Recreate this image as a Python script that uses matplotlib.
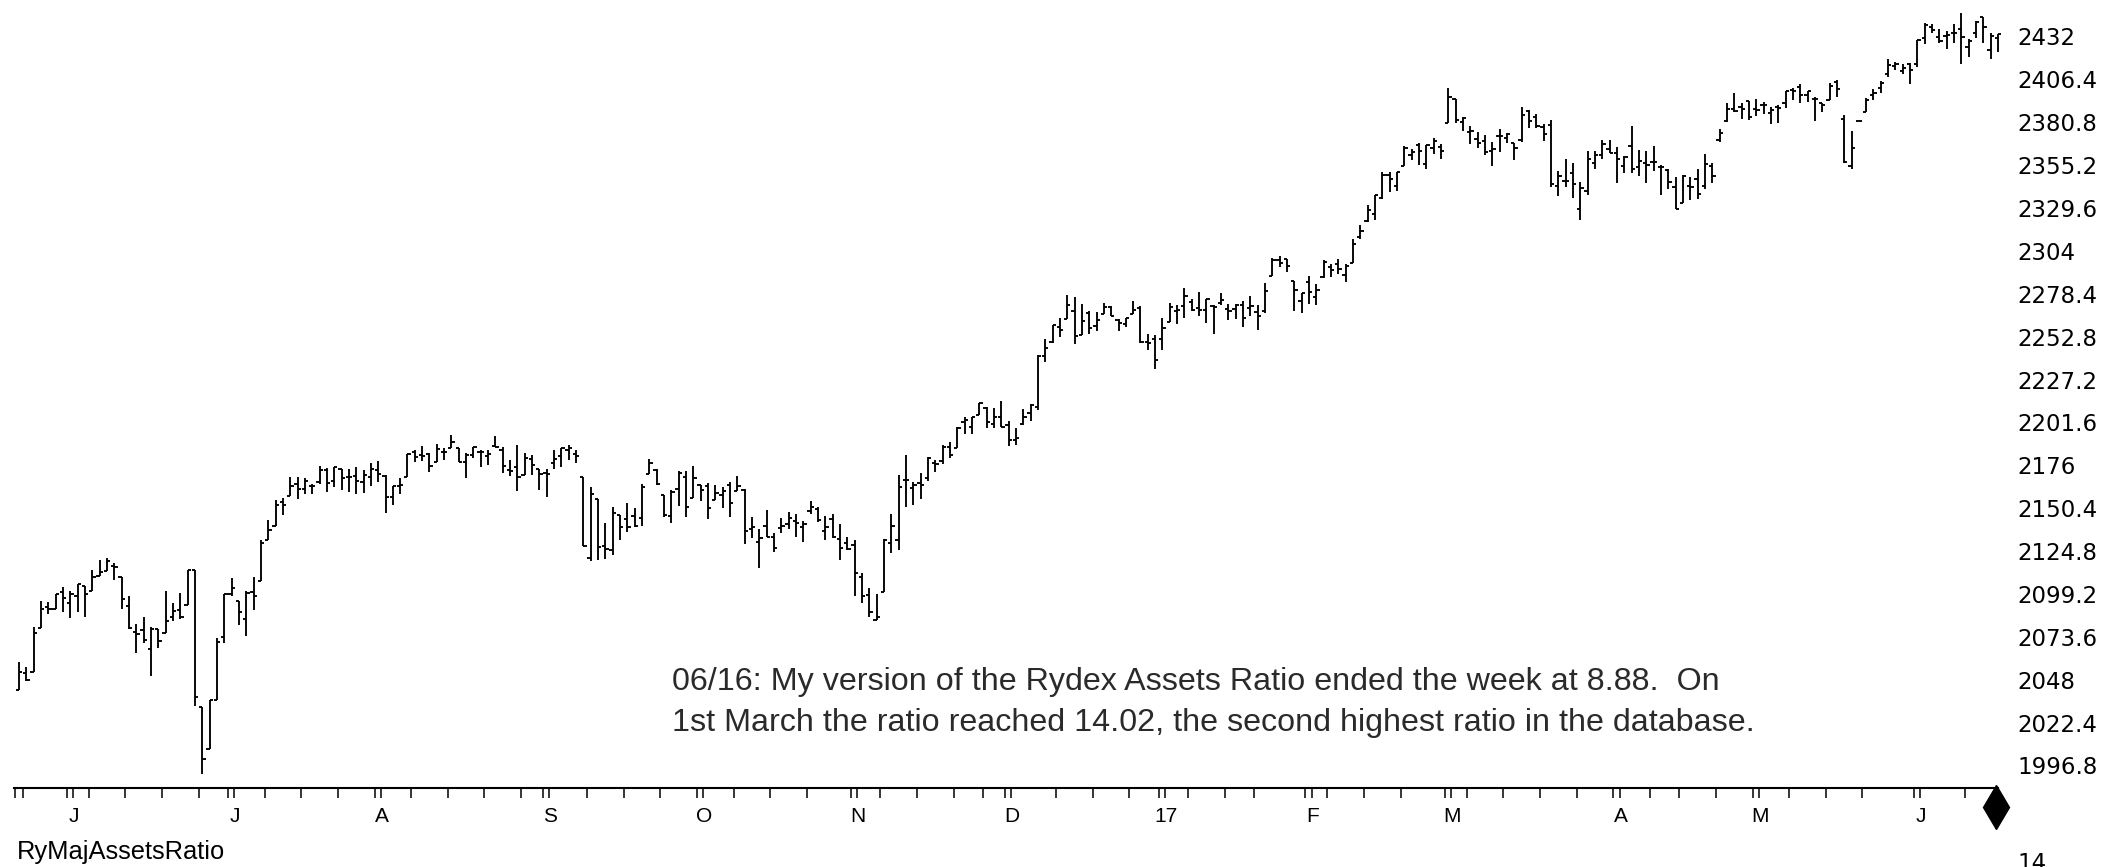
import datetime as dt
import numpy as np
import matplotlib
matplotlib.use("Agg")
import matplotlib.pyplot as plt

# ---------------- data: (day, open, high, low, close) ----------------
m2016_05 = [(20, 2041.9, 2058.4, 2041.9, 2052.3), (23, 2052.2, 2055.6, 2047.3, 2048.0),
            (24, 2052.7, 2079.7, 2052.7, 2076.1), (25, 2078.9, 2094.7, 2078.9, 2090.5),
            (26, 2091.4, 2094.3, 2087.1, 2090.1), (27, 2090.1, 2099.1, 2090.1, 2099.1),
            (31, 2100.1, 2103.5, 2088.7, 2097.0)]
m2016_06 = [(1, 2093.9, 2101.0, 2085.1, 2099.3), (2, 2097.7, 2105.3, 2088.6, 2105.3),
            (3, 2104.1, 2104.1, 2085.4, 2099.1), (6, 2100.8, 2113.4, 2100.8, 2109.4),
            (7, 2110.2, 2119.2, 2110.2, 2112.1), (8, 2112.7, 2120.6, 2112.7, 2119.1),
            (9, 2115.7, 2117.6, 2107.7, 2115.5), (10, 2109.6, 2109.6, 2090.0, 2096.1),
            (13, 2091.8, 2098.1, 2078.5, 2079.1), (14, 2076.7, 2081.3, 2064.1, 2075.3),
            (15, 2077.6, 2085.7, 2069.8, 2071.5), (16, 2066.4, 2079.6, 2050.4, 2078.0),
            (17, 2078.2, 2078.2, 2067.2, 2071.2), (20, 2075.6, 2100.7, 2075.6, 2083.3),
            (21, 2085.2, 2093.7, 2083.0, 2088.9), (22, 2089.8, 2099.7, 2084.4, 2085.5),
            (23, 2092.8, 2113.3, 2092.8, 2113.3), (24, 2113.3, 2113.3, 2032.1, 2037.4),
            (27, 2031.5, 2031.5, 1991.7, 2000.5), (28, 2006.7, 2036.1, 2006.7, 2036.1),
            (29, 2036.1, 2073.1, 2036.1, 2070.8), (30, 2073.2, 2098.9, 2070.0, 2098.9)]
m2016_07 = [(1, 2099.3, 2108.7, 2097.9, 2103.0), (5, 2095.1, 2095.1, 2080.9, 2088.6),
            (6, 2084.4, 2100.7, 2074.0, 2099.7), (7, 2100.4, 2109.1, 2089.4, 2097.9),
            (8, 2107.0, 2131.7, 2107.0, 2129.9), (11, 2131.7, 2143.2, 2131.7, 2137.2),
            (12, 2139.5, 2155.4, 2139.5, 2152.1), (13, 2153.8, 2156.5, 2146.2, 2152.4),
            (14, 2157.9, 2169.0, 2157.9, 2163.8), (15, 2165.1, 2169.1, 2155.8, 2161.7),
            (18, 2162.0, 2168.4, 2159.1, 2166.9), (19, 2163.8, 2164.6, 2159.0, 2163.8),
            (20, 2166.1, 2175.6, 2164.9, 2173.0), (21, 2172.9, 2174.6, 2159.8, 2165.2),
            (22, 2166.5, 2175.1, 2163.2, 2175.0), (25, 2173.7, 2173.7, 2161.4, 2168.5),
            (26, 2169.0, 2173.5, 2160.2, 2169.2), (27, 2169.8, 2175.0, 2159.1, 2166.6),
            (28, 2166.1, 2172.9, 2159.7, 2170.1), (29, 2168.8, 2177.1, 2163.5, 2173.6)]
m2016_08 = [(1, 2173.2, 2178.3, 2166.2, 2170.8), (2, 2169.9, 2170.2, 2147.6, 2157.0),
            (3, 2156.8, 2163.8, 2152.1, 2163.8), (4, 2163.5, 2168.2, 2159.1, 2164.3),
            (5, 2168.8, 2182.9, 2168.8, 2182.9), (8, 2183.8, 2185.4, 2177.9, 2180.9),
            (9, 2182.2, 2187.7, 2178.6, 2181.7), (10, 2182.8, 2183.4, 2172.0, 2175.5),
            (11, 2178.0, 2188.5, 2178.0, 2185.8), (12, 2183.7, 2186.3, 2179.4, 2184.1),
            (15, 2186.1, 2193.8, 2186.1, 2190.2), (16, 2186.2, 2186.2, 2178.1, 2178.2),
            (17, 2177.8, 2183.1, 2168.5, 2182.2), (18, 2181.9, 2187.0, 2180.5, 2187.0),
            (19, 2184.2, 2185.0, 2175.1, 2183.9), (22, 2181.6, 2185.2, 2176.0, 2182.6),
            (23, 2187.8, 2193.4, 2186.8, 2186.9), (24, 2185.1, 2186.7, 2171.3, 2175.4),
            (25, 2173.3, 2179.0, 2169.7, 2172.5), (26, 2175.1, 2187.9, 2160.4, 2169.0),
            (29, 2170.2, 2183.5, 2170.2, 2180.4), (30, 2179.5, 2182.3, 2170.4, 2176.1),
            (31, 2173.6, 2173.8, 2161.4, 2171.0)]
m2016_09 = [(1, 2171.3, 2173.6, 2157.1, 2170.9), (2, 2177.5, 2184.9, 2173.6, 2180.0),
            (6, 2181.6, 2186.6, 2175.1, 2186.5), (7, 2185.2, 2187.9, 2179.1, 2186.2),
            (8, 2182.8, 2184.9, 2177.5, 2181.3), (9, 2169.1, 2169.1, 2127.8, 2127.8),
            (12, 2120.9, 2163.3, 2119.1, 2159.0), (13, 2155.8, 2155.8, 2119.4, 2127.0),
            (14, 2127.9, 2141.3, 2119.9, 2125.8), (15, 2125.4, 2151.3, 2122.4, 2147.3),
            (16, 2146.5, 2146.5, 2131.2, 2139.2), (19, 2144.0, 2153.6, 2135.9, 2139.1),
            (20, 2145.9, 2150.8, 2139.2, 2139.8), (21, 2144.6, 2165.1, 2139.6, 2163.1),
            (22, 2170.9, 2180.0, 2170.9, 2177.2), (23, 2173.3, 2173.8, 2164.0, 2164.7),
            (26, 2158.5, 2158.5, 2145.0, 2146.1), (27, 2146.0, 2161.1, 2141.6, 2159.9),
            (28, 2161.9, 2172.4, 2151.8, 2171.4), (29, 2168.9, 2172.7, 2145.2, 2151.1),
            (30, 2156.5, 2175.3, 2156.5, 2168.3)]
m2016_10 = [(3, 2164.3, 2164.4, 2154.8, 2161.2), (4, 2163.4, 2165.5, 2144.0, 2150.5),
            (5, 2155.2, 2164.0, 2155.2, 2159.7), (6, 2158.2, 2162.9, 2150.3, 2160.8),
            (7, 2164.2, 2165.9, 2144.9, 2153.7), (10, 2160.4, 2169.6, 2160.4, 2163.7),
            (11, 2161.4, 2161.6, 2128.8, 2136.7), (12, 2137.7, 2145.4, 2132.8, 2139.2),
            (13, 2130.3, 2138.2, 2114.7, 2132.6), (14, 2139.7, 2149.2, 2133.0, 2133.0),
            (17, 2133.0, 2135.6, 2124.4, 2126.5), (18, 2138.3, 2144.4, 2135.5, 2139.6),
            (19, 2140.8, 2148.4, 2138.2, 2144.3), (20, 2142.5, 2147.2, 2133.4, 2141.3),
            (21, 2139.4, 2142.6, 2130.1, 2141.2), (24, 2148.5, 2154.8, 2146.9, 2151.3),
            (25, 2149.7, 2151.4, 2141.9, 2143.2), (26, 2137.0, 2145.7, 2131.6, 2139.4),
            (27, 2144.1, 2147.1, 2132.5, 2133.0), (28, 2132.2, 2140.7, 2119.4, 2126.4),
            (31, 2129.8, 2133.3, 2125.5, 2126.2)]
m2016_11 = [(1, 2128.7, 2131.5, 2097.9, 2111.7), (2, 2109.4, 2111.8, 2094.0, 2097.9),
            (3, 2098.8, 2102.6, 2085.2, 2088.7), (4, 2083.8, 2099.1, 2083.8, 2085.2),
            (7, 2100.6, 2132.0, 2100.6, 2131.5), (8, 2129.9, 2146.9, 2123.6, 2139.6),
            (9, 2131.6, 2170.1, 2125.4, 2163.3), (10, 2167.5, 2182.3, 2151.2, 2167.5),
            (11, 2162.7, 2165.9, 2152.5, 2164.5), (14, 2165.6, 2171.4, 2156.1, 2164.2),
            (15, 2168.3, 2180.8, 2166.4, 2180.4), (16, 2177.5, 2179.2, 2172.2, 2176.9),
            (17, 2178.6, 2188.1, 2176.7, 2187.1), (18, 2186.9, 2189.9, 2180.4, 2181.9),
            (21, 2186.4, 2198.7, 2186.4, 2198.2), (22, 2201.6, 2204.8, 2194.5, 2202.9),
            (23, 2198.6, 2204.7, 2194.5, 2204.7), (25, 2206.3, 2213.4, 2206.3, 2213.4),
            (28, 2210.2, 2211.1, 2198.4, 2201.7), (29, 2200.8, 2210.5, 2198.2, 2204.7),
            (30, 2205.0, 2214.1, 2198.8, 2198.8)]
m2016_12 = [(1, 2200.2, 2202.6, 2187.4, 2191.1), (2, 2191.1, 2198.0, 2188.4, 2192.0),
            (5, 2200.7, 2209.4, 2200.0, 2204.7), (6, 2207.3, 2212.8, 2202.2, 2212.2),
            (7, 2210.7, 2241.6, 2208.9, 2241.4), (8, 2241.1, 2251.7, 2237.6, 2246.2),
            (9, 2249.7, 2259.8, 2249.2, 2259.5), (12, 2258.8, 2264.0, 2252.4, 2257.0),
            (13, 2263.3, 2277.5, 2263.3, 2271.7), (14, 2268.4, 2276.2, 2248.4, 2253.3),
            (15, 2253.8, 2272.1, 2253.8, 2262.0), (16, 2266.8, 2268.1, 2254.2, 2258.1),
            (19, 2259.2, 2267.5, 2256.1, 2262.5), (20, 2266.5, 2272.6, 2266.1, 2270.8),
            (21, 2270.5, 2271.2, 2265.2, 2265.2), (22, 2262.9, 2263.2, 2256.1, 2261.0),
            (23, 2260.3, 2263.8, 2258.8, 2263.8), (27, 2266.2, 2273.8, 2266.2, 2268.9),
            (28, 2270.2, 2271.3, 2249.1, 2249.9), (29, 2249.5, 2254.5, 2244.6, 2249.3),
            (30, 2251.6, 2253.6, 2233.6, 2238.8)]
m2017_01 = [(3, 2251.6, 2263.9, 2245.1, 2257.8), (4, 2261.6, 2272.8, 2261.6, 2270.8),
            (5, 2268.2, 2271.5, 2260.5, 2269.0), (6, 2271.1, 2282.1, 2264.1, 2277.0),
            (9, 2273.6, 2275.5, 2268.0, 2268.9), (10, 2269.7, 2279.3, 2265.3, 2268.9),
            (11, 2268.6, 2275.3, 2260.8, 2275.3), (12, 2271.1, 2271.8, 2254.3, 2270.4),
            (13, 2272.7, 2278.7, 2271.5, 2274.6), (17, 2269.1, 2272.1, 2262.8, 2267.9),
            (18, 2269.1, 2272.0, 2263.4, 2271.9), (19, 2271.9, 2274.3, 2258.4, 2263.7),
            (20, 2270.0, 2277.0, 2265.0, 2271.3), (23, 2267.8, 2271.8, 2257.0, 2265.2),
            (24, 2267.9, 2284.6, 2266.7, 2280.1), (25, 2288.9, 2299.6, 2288.9, 2298.4),
            (26, 2298.6, 2301.0, 2294.1, 2296.7), (27, 2299.0, 2299.0, 2291.6, 2294.7),
            (30, 2286.0, 2286.0, 2268.0, 2280.9), (31, 2274.0, 2279.1, 2267.2, 2278.9)]
m2017_02 = [(1, 2285.6, 2289.1, 2272.4, 2279.6), (2, 2276.7, 2284.0, 2271.7, 2280.9),
            (3, 2288.5, 2298.3, 2287.9, 2297.4), (6, 2294.3, 2296.2, 2288.6, 2292.6),
            (7, 2295.9, 2299.4, 2290.2, 2293.1), (8, 2289.6, 2295.9, 2285.4, 2294.7),
            (9, 2296.7, 2311.1, 2296.6, 2307.9), (10, 2312.3, 2319.2, 2311.1, 2316.1),
            (13, 2321.7, 2331.6, 2321.4, 2328.3), (14, 2326.1, 2337.6, 2322.2, 2337.6),
            (15, 2335.6, 2351.3, 2334.8, 2349.3), (16, 2349.6, 2351.3, 2338.9, 2347.2),
            (17, 2343.0, 2351.2, 2339.6, 2351.2), (21, 2354.9, 2366.7, 2354.9, 2365.4),
            (22, 2361.1, 2365.1, 2358.3, 2362.8), (23, 2367.5, 2368.3, 2355.1, 2363.8),
            (24, 2355.7, 2367.3, 2352.9, 2367.3), (27, 2365.2, 2371.5, 2361.9, 2369.8),
            (28, 2366.1, 2367.8, 2359.0, 2363.6)]
m2017_03 = [(1, 2380.1, 2401.0, 2380.1, 2396.0), (2, 2394.8, 2394.8, 2380.2, 2381.9),
            (3, 2380.9, 2383.9, 2375.4, 2383.1), (6, 2375.2, 2378.8, 2368.0, 2375.3),
            (7, 2370.7, 2375.1, 2365.5, 2368.4), (8, 2369.8, 2373.1, 2361.0, 2363.0),
            (9, 2363.5, 2369.1, 2354.5, 2364.9), (10, 2372.5, 2376.9, 2363.0, 2372.6),
            (13, 2371.6, 2374.4, 2368.5, 2373.5), (14, 2368.6, 2368.6, 2358.2, 2365.5),
            (15, 2370.3, 2390.0, 2368.9, 2385.3), (16, 2387.7, 2388.1, 2377.2, 2381.4),
            (17, 2383.7, 2385.7, 2377.6, 2378.3), (20, 2378.2, 2379.6, 2369.7, 2373.5),
            (21, 2379.3, 2381.9, 2341.9, 2344.0), (22, 2343.0, 2351.8, 2336.5, 2348.5),
            (23, 2346.0, 2358.9, 2342.1, 2346.0), (24, 2350.4, 2356.2, 2335.7, 2344.0),
            (27, 2329.1, 2344.9, 2322.3, 2341.6), (28, 2339.8, 2363.8, 2337.6, 2358.6),
            (29, 2356.5, 2363.4, 2352.9, 2361.1), (30, 2361.3, 2370.4, 2358.6, 2368.1),
            (31, 2364.8, 2370.4, 2362.6, 2362.7)]
m2017_04 = [(3, 2362.3, 2365.9, 2344.7, 2358.8), (4, 2354.8, 2360.5, 2350.7, 2360.2),
            (5, 2366.6, 2378.4, 2350.5, 2353.0), (6, 2353.8, 2364.2, 2348.9, 2357.5),
            (7, 2356.6, 2363.8, 2344.7, 2355.5), (10, 2357.2, 2366.4, 2351.5, 2357.2),
            (11, 2353.9, 2355.2, 2337.3, 2353.8), (12, 2352.2, 2352.7, 2341.2, 2344.9),
            (13, 2342.0, 2348.3, 2329.0, 2329.0), (17, 2332.6, 2349.1, 2332.5, 2349.0),
            (18, 2342.5, 2348.4, 2334.5, 2342.2), (19, 2346.8, 2352.6, 2335.1, 2338.2),
            (20, 2342.7, 2361.9, 2340.9, 2355.8), (21, 2354.7, 2356.2, 2344.5, 2348.7),
            (24, 2370.3, 2377.0, 2369.2, 2374.2), (25, 2381.5, 2392.5, 2381.2, 2388.6),
            (26, 2389.0, 2398.2, 2386.8, 2387.5), (27, 2389.7, 2392.1, 2382.7, 2388.8),
            (28, 2393.7, 2393.7, 2382.4, 2384.2)]
m2017_05 = [(1, 2388.5, 2394.5, 2384.8, 2388.3), (2, 2391.1, 2392.9, 2385.8, 2391.2),
            (3, 2386.5, 2389.8, 2379.8, 2388.1), (4, 2389.8, 2391.4, 2380.4, 2389.5),
            (5, 2392.4, 2399.3, 2389.4, 2399.3), (8, 2399.9, 2401.4, 2393.9, 2399.4),
            (9, 2401.6, 2403.9, 2392.4, 2396.9), (10, 2396.8, 2399.7, 2392.8, 2399.6),
            (11, 2394.8, 2395.7, 2381.7, 2394.4), (12, 2392.4, 2392.4, 2387.2, 2390.9),
            (15, 2394.0, 2404.1, 2393.9, 2402.3), (16, 2404.6, 2405.8, 2396.1, 2400.7),
            (17, 2383.0, 2384.9, 2356.2, 2357.0), (18, 2354.7, 2375.7, 2352.7, 2365.7),
            (19, 2381.7, 2381.7, 2381.7, 2381.7), (22, 2387.2, 2395.5, 2386.9, 2394.0),
            (23, 2397.0, 2400.9, 2393.9, 2398.4), (24, 2401.4, 2405.6, 2398.0, 2404.4),
            (25, 2409.5, 2418.7, 2408.0, 2415.1), (26, 2414.5, 2416.7, 2412.2, 2415.8),
            (30, 2411.7, 2415.3, 2409.4, 2412.9), (31, 2415.6, 2416.0, 2403.6, 2411.8)]
m2017_06 = [(1, 2415.7, 2430.1, 2413.5, 2430.1), (2, 2431.3, 2440.2, 2427.7, 2439.1),
            (5, 2437.8, 2439.6, 2434.3, 2436.1), (6, 2431.9, 2436.2, 2428.1, 2429.3),
            (7, 2432.0, 2435.3, 2424.8, 2433.1), (8, 2434.3, 2439.3, 2427.9, 2433.8),
            (9, 2436.4, 2446.2, 2415.7, 2431.8), (12, 2425.9, 2430.4, 2420.0, 2429.4),
            (13, 2434.2, 2441.5, 2431.3, 2440.4), (14, 2443.8, 2443.8, 2428.3, 2437.9),
            (15, 2424.1, 2434.0, 2418.5, 2432.5), (16, 2431.2, 2433.2, 2422.9, 2433.2)]

months = [(2016, 5, m2016_05), (2016, 6, m2016_06), (2016, 7, m2016_07), (2016, 8, m2016_08),
          (2016, 9, m2016_09), (2016, 10, m2016_10), (2016, 11, m2016_11), (2016, 12, m2016_12),
          (2017, 1, m2017_01), (2017, 2, m2017_02), (2017, 3, m2017_03), (2017, 4, m2017_04),
          (2017, 5, m2017_05), (2017, 6, m2017_06)]

month_labels = ["J", "J", "A", "S", "O", "N", "D", "17", "F", "M", "A", "M", "J"]
y_tick_values = [1996.8, 2022.4, 2048, 2073.6, 2099.2, 2124.8, 2150.4, 2176, 2201.6,
                 2227.2, 2252.8, 2278.4, 2304, 2329.6, 2355.2, 2380.8, 2406.4, 2432]
note_lines = ["06/16: My version of the Rydex Assets Ratio ended the week at 8.88.  On",
              "1st March the ratio reached 14.02, the second highest ratio in the database."]
indicator_name = "RyMajAssetsRatio"
indicator_top_value = "14"

dates, O, Hi, Lo, C = [], [], [], [], []
for yy, mm, rows in months:
    for d, o, h, l, c in rows:
        dates.append(dt.date(yy, mm, d))
        O.append(o); Hi.append(h); Lo.append(l); C.append(c)
n = len(dates)
x = np.arange(n)
O, Hi, Lo, C = map(np.array, (O, Hi, Lo, C))

# ---------------- layout (pixels) ----------------
W, H, DPI = 2119, 867, 100
AX_L, AX_R, AX_T, AX_B = 14, 1998, 0, 788
X0, PXB = 19.0, 7.33            # pixel of first bar, pixels per bar
Y_REF_PX, Y_REF_V, PXV = 36.5, 2432.0, 1.675

fig = plt.figure(figsize=(W / DPI, H / DPI), dpi=DPI)
fig.patch.set_facecolor("white")
ax = fig.add_axes([AX_L / W, 1 - AX_B / H, (AX_R - AX_L) / W, (AX_B - AX_T) / H])
ax.set_facecolor("white")
ax.set_xlim((AX_L - X0) / PXB, (AX_R - X0) / PXB)
ax.set_ylim(Y_REF_V - (AX_B - Y_REF_PX) / PXV, Y_REF_V + (Y_REF_PX - AX_T) / PXV)

for s in ("top", "left", "right"):
    ax.spines[s].set_visible(False)
ax.spines["bottom"].set_linewidth(1.5)
ax.spines["bottom"].set_color("black")

# OHLC bars
lw = 1.35
tw = 0.45
ax.vlines(x, Lo, Hi, color="black", lw=lw, clip_on=False)
ax.hlines(O, x - tw, x, color="black", lw=lw, clip_on=False)
ax.hlines(C, x, x + tw, color="black", lw=lw, clip_on=False)

# x ticks: week starts and doubled month starts
week_starts = [i for i in range(n)
               if i == 0 or dates[i].isocalendar()[1] != dates[i - 1].isocalendar()[1]]
month_starts = [i for i in range(1, n) if dates[i].month != dates[i - 1].month]
ticks = []
for m in month_starts:
    ticks += [m - 0.5, m + 0.35]
for w in week_starts:
    if all(abs(w - m) > 2.5 for m in month_starts):
        ticks.append(w - 0.5)
ax.set_xticks(sorted(ticks))
ax.tick_params(axis="x", direction="out", length=7, width=1.1, color="black",
               labelbottom=False)

xt = ax.get_xaxis_transform()
lab_y = -(817 - AX_B) / (AX_B - AX_T)
for m, lab in zip(month_starts, month_labels):
    ax.text(m + 0.5, lab_y, lab, transform=xt, ha="center", va="center",
            fontsize=15, family="Liberation Sans", color="black")

# end diamond
ax.plot([n - 1.3], [-(807 - AX_B) / (AX_B - AX_T)], transform=xt, marker="d",
        markersize=22, color="black", clip_on=False)

# y axis labels on the right
ax.yaxis.tick_right()
ax.set_yticks(y_tick_values)
ax.set_yticklabels([f"{v:g}" for v in y_tick_values])
ax.tick_params(axis="y", length=0, pad=(2017 - AX_R) * 0.72, labelsize=16.5,
               labelcolor="black")
for t in ax.get_yticklabels():
    t.set_family("DejaVu Sans")


def fx(px):
    return px / W


def fy(py):
    return 1 - py / H


# annotation
fig.text(fx(672), fy(682), note_lines[0], ha="left", va="center", fontsize=23.2,
         family="Liberation Sans", color="#2a2a2a")
fig.text(fx(672), fy(723), note_lines[1], ha="left", va="center", fontsize=23.2,
         family="Liberation Sans", color="#2a2a2a")

# indicator pane header
fig.text(fx(17), fy(852), indicator_name, ha="left", va="center", fontsize=18.4,
         family="Liberation Sans", color="black")
fig.text(fx(2017), fy(852), indicator_top_value, ha="left", va="top", fontsize=16.5,
         family="DejaVu Sans", color="black")

fig.savefig("out.png", dpi=DPI, facecolor="white")
